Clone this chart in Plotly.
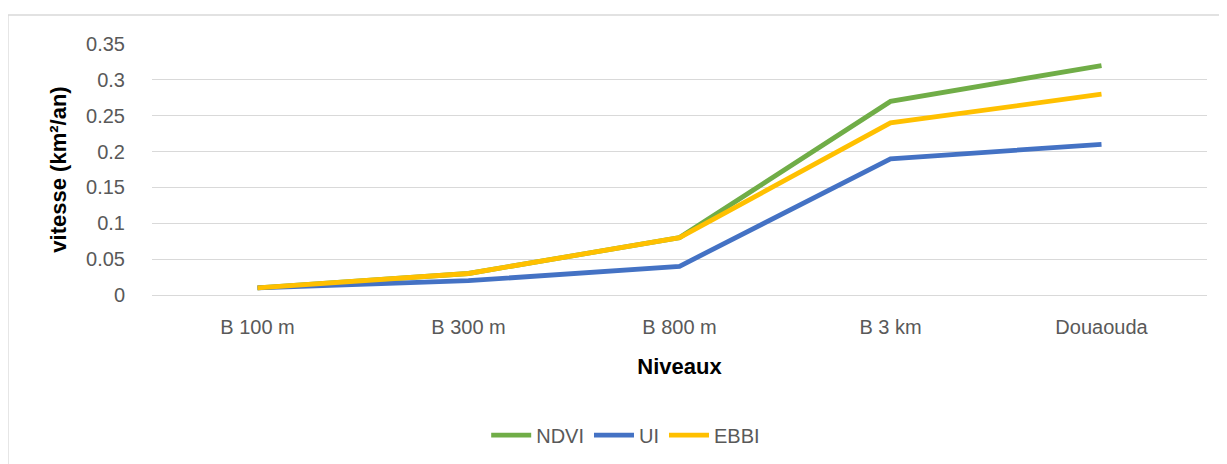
import plotly.graph_objects as go

niveaux = ['B 100 m', 'B 300 m', 'B 800 m', 'B 3 km', 'Douaouda']
ndvi = [0.01, 0.03, 0.08, 0.27, 0.32]
ui = [0.01, 0.02, 0.04, 0.19, 0.21]
ebbi = [0.01, 0.03, 0.08, 0.24, 0.28]

series = [
    ('NDVI', ndvi, '#70AD47'),
    ('UI', ui, '#4472C4'),
    ('EBBI', ebbi, '#FFC000'),
]

fig = go.Figure()
for name, vals, color in series:
    fig.add_trace(go.Scatter(
        x=niveaux, y=vals, name=name, mode='lines',
        line=dict(color=color, width=4.8),
    ))

font = 'Liberation Sans, Arial'

# page body has an 8px margin, so the figure is a bit smaller than the window
fig.update_layout(
    width=1219, height=456,
    margin=dict(l=144, r=20, t=36, b=169, autoexpand=False),
    paper_bgcolor='white', plot_bgcolor='white',
    font=dict(family=font, size=20, color='#595959'),
    showlegend=True,
    legend=dict(orientation='h', x=0.449, xanchor='center', y=-0.558, yanchor='middle',
                font=dict(size=20, color='#595959'), itemwidth=40),
    xaxis=dict(
        showgrid=False, showline=False, zeroline=False,
        ticklabelstandoff=18,
        title=dict(text='<b>Niveaux</b>', font=dict(size=22, color='#000000'), standoff=21),
        range=[-0.5, 4.5],
    ),
    yaxis=dict(
        range=[0, 0.35], dtick=0.05, showgrid=True, gridcolor='#D9D9D9', gridwidth=1.3,
        zeroline=True, zerolinecolor='#D9D9D9', zerolinewidth=1.3, showline=False,
        ticklabelstandoff=26,
        title=dict(text='<b>vitesse (km²/an)</b>', font=dict(size=22, color='#000000'), standoff=13),
    ),
    shapes=[dict(type='rect', xref='paper', yref='paper',
                 x0=-0.1365, x1=1.0123, y0=-0.8, y1=1.1155,
                 line=dict(color='#D9D9D9', width=1.3), fillcolor='rgba(0,0,0,0)', layer='below')],
)

fig.write_html('out.html')
